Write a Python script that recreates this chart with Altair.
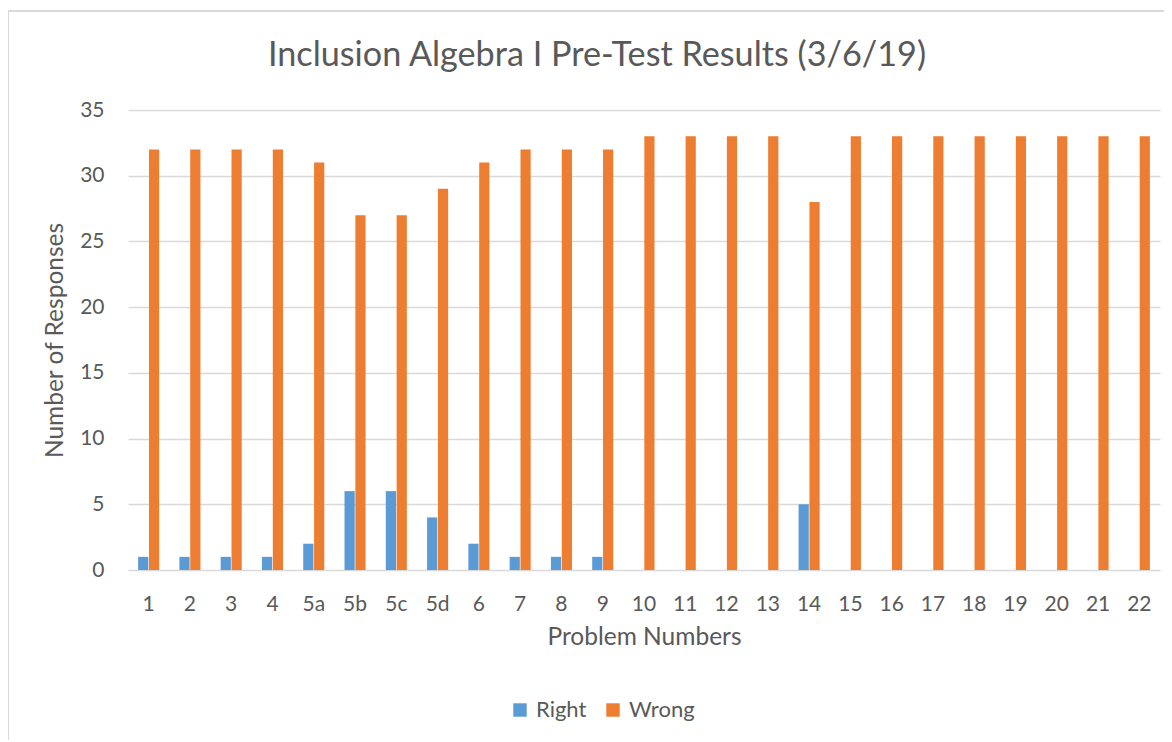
import altair as alt
import pandas as pd

problems = ["1", "2", "3", "4", "5a", "5b", "5c", "5d", "6", "7", "8", "9", "10",
            "11", "12", "13", "14", "15", "16", "17", "18", "19", "20", "21", "22"]
right = [1, 1, 1, 1, 2, 6, 6, 4, 2, 1, 1, 1, 0, 0, 0, 0, 5, 0, 0, 0, 0, 0, 0, 0, 0]
wrong = [32, 32, 32, 32, 31, 27, 27, 29, 31, 32, 32, 32, 33, 33, 33, 33, 28, 33,
         33, 33, 33, 33, 33, 33, 33]
series = ["Right", "Wrong"]
colors = ["#5B9BD5", "#ED7D31"]
y_ticks = [0, 5, 10, 15, 20, 25, 30, 35]
title_text = "Inclusion Algebra I Pre-Test Results (3/6/19)"

rows = []
for p, r, w in zip(problems, right, wrong):
    rows.append({"Problem": p, "Series": "Right", "Count": r})
    rows.append({"Problem": p, "Series": "Wrong", "Count": w})
df = pd.DataFrame(rows)

FONT = "Lato"
TXT = "#595959"
W, H = 1032, 460

bars = alt.Chart(df).mark_bar().encode(
    x=alt.X("Problem:N", sort=problems,
            scale=alt.Scale(paddingInner=0.49, paddingOuter=0.245),
            axis=alt.Axis(title="Problem Numbers", labelAngle=0, ticks=False,
                          tickSize=0, domain=False, labelPadding=23,
                          titlePadding=11, labelFontSize=21, titleFontSize=24.5,
                          labelColor=TXT, titleColor=TXT, labelFont=FONT,
                          titleFont=FONT, titleFontWeight="normal")),
    xOffset=alt.XOffset("Series:N", sort=series,
                        scale=alt.Scale(paddingInner=0.06)),
    y=alt.Y("Count:Q", scale=alt.Scale(domain=[0, 35], nice=False),
            axis=alt.Axis(title="Number of Responses", values=y_ticks,
                          ticks=False, tickSize=0, domain=False,
                          labelPadding=24, titlePadding=12,
                          labelFontSize=21, titleFontSize=24.5,
                          labelColor=TXT, titleColor=TXT, labelFont=FONT,
                          titleFont=FONT, titleFontWeight="normal",
                          gridColor="#D9D9D9", gridWidth=1.3)),
    color=alt.Color("Series:N", sort=series,
                    scale=alt.Scale(domain=series, range=colors),
                    legend=alt.Legend(title=None, orient="none",
                                      direction="horizontal",
                                      legendX=381, legendY=589,
                                      symbolType="square", symbolSize=180,
                                      symbolStrokeWidth=0,
                                      labelFontSize=22, labelFont=FONT,
                                      labelColor=TXT, columnPadding=15,
                                      labelOffset=5)),
)

frame_df = pd.DataFrame({"k": [0]})
left_border = alt.Chart(frame_df).mark_rule(color="#D9D9D9", strokeWidth=2).encode(
    x=alt.value(-120), y=alt.value(-99), y2=alt.value(H + 200))
top_border = alt.Chart(frame_df).mark_rule(color="#D9D9D9", strokeWidth=2).encode(
    x=alt.value(-120), x2=alt.value(W + 40), y=alt.value(-99))

title_df = pd.DataFrame({"t": [title_text]})
title = alt.Chart(title_df).mark_text(
    font=FONT, fontSize=34.2, color=TXT, align="center", baseline="middle"
).encode(text="t:N", x=alt.value(597 - 128), y=alt.value(56 - 110))

chart = alt.layer(left_border, top_border, title, bars).properties(
    width=W, height=H,
    autosize=alt.AutoSizeParams(type="none"),
    padding={"left": 120, "top": 102, "right": 4, "bottom": 170},
).configure_view(stroke=None).configure_axisX(grid=False)

chart.save("out.html", embed_options={"renderer": "svg", "actions": False})
